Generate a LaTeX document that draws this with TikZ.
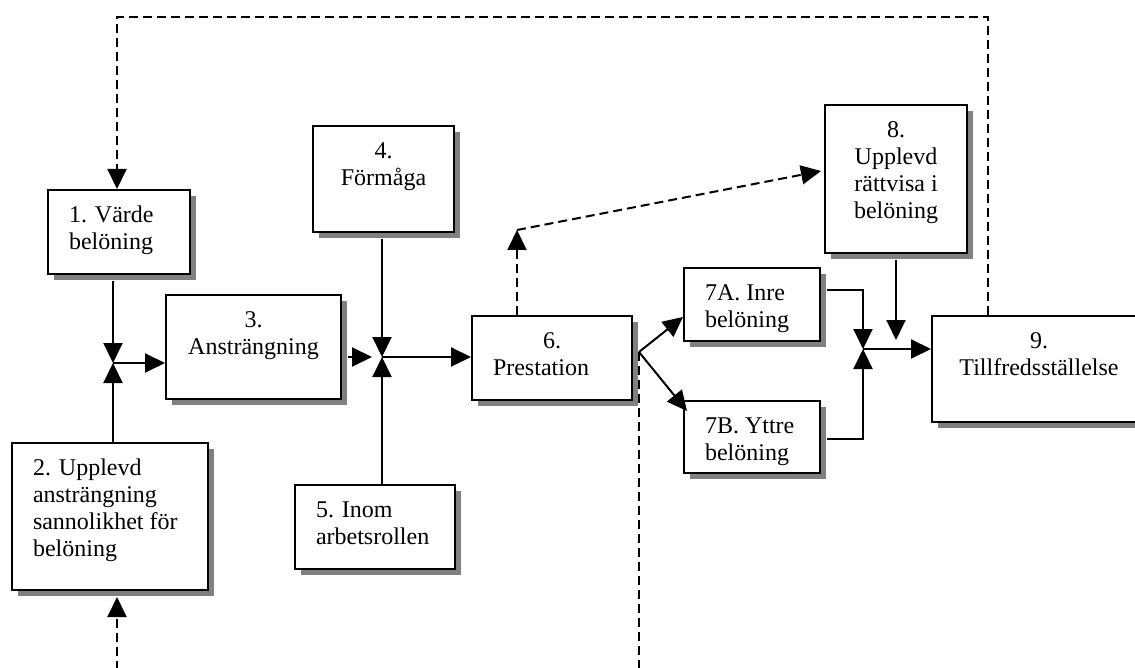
\documentclass[tikz,border=0pt]{standalone}
\usepackage{fontspec}
\setmainfont{Liberation Serif}
\usetikzlibrary{arrows.meta,shadows,calc}

\tikzset{every picture/.style={line width=1pt}}
\tikzset{
  blk/.style={draw, fill=white, anchor=north west, inner xsep=10.5pt, inner ysep=0pt,
    font=\fontsize{12}{13.5}\selectfont,
    drop shadow={shadow xshift=3pt, shadow yshift=-3pt, fill=black!50, opacity=1}},
  arr/.style={-{Triangle[length=10pt,width=9.5pt]}},
  fb/.style={arr, dash pattern=on 4.5pt off 2.5pt}
}
% box text: width, height (px), alignment, text
\newcommand{\boxtext}[4]{\parbox[c][\dimexpr#2pt/2\relax][t]{\dimexpr#1pt/2-21pt\relax}{#3\vspace*{7pt}\strut#4}}

\begin{document}
\begin{tikzpicture}[x=0.5pt,y=0.5pt,yscale=-1,xscale=1]
\useasboundingbox (0,0) rectangle (1135,668);

% Boxes
\node[blk] (b1) at (47,189) {\boxtext{142}{84}{\raggedright}{1. Värde\\belöning}};
\node[blk] (b2) at (11,442) {\boxtext{196}{147}{\raggedright}{2. Upplevd\\ansträngning\\sannolikhet för\\belöning}};
\node[blk] (b3) at (165,294) {\boxtext{175}{104}{\centering}{3.\\Ansträngning}};
\node[blk] (b4) at (312,125) {\boxtext{141}{106}{\centering}{4.\\Förmåga}};
\node[blk] (b5) at (294,484) {\boxtext{160}{84}{\raggedright}{5. Inom\\arbetsrollen}};
\node[blk] (b6) at (471,315) {\boxtext{160}{84}{\raggedright}{\makebox[\linewidth]{6.}\\Prestation}};
\node[blk] (b7a) at (683,267) {\boxtext{136}{73}{\raggedright}{7A. Inre\\belöning}};
\node[blk] (b7b) at (683,400) {\boxtext{136}{72}{\raggedright}{7B. Yttre\\belöning}};
\node[blk] (b8) at (824,104) {\boxtext{142}{148}{\centering}{8.\\Upplevd\\rättvisa i\\belöning}};
\node[blk] (b9) at (931,315) {\boxtext{214}{106}{\centering}{9.\\Tillfredsställelse}};

% Junctions and bends
\coordinate (j1) at (113,363);
\coordinate (j2) at (382,357);
\coordinate (j3) at (863,349);
\coordinate (s6) at (639,352);
\coordinate (d6) at (517,230);
\coordinate (t9) at (988,17);
\coordinate (t1) at (117,17);
\coordinate (u6) at (639,670);
\coordinate (u2) at (117,670);

% Straight Lines
\draw[arr] ($(j1 |- b1.south)+(0,6)$) -- (j1);
\draw[arr] (j1 |- b2.north) -- (j1);
\draw[arr] (j1) -- (j1 -| b3.west);
\draw[arr,shorten >=5pt] ($(b3.east |- j2)+(6,0)$) -- (j2);
\draw[arr] ($(j2 |- b4.south)+(0,6)$) -- (j2);
\draw[arr] (j2 |- b5.north) -- (j2);
\draw[arr] (j2) -- (j2 -| b6.west);
\draw[arr] (s6) -- ($(b7a.west)+(0,12.5)$);
\draw[arr] (s6) -- ($(b7b.north west)+(4,11)$);
\draw[arr] ($(b7a.east)+(6,-14.5)$) -| (j3);
\draw[arr] ($(b7b.east)+(6,2)$) -| (j3);
\draw[arr,shorten >=4.5pt] ($(b8.south)+(0,6)$) -- (b8.south |- j3);
\draw[arr] (j3) -- (j3 -| b9.west);

% Dashed feedback lines
\draw[fb] (d6 |- b6.north) -- (d6);
\draw[fb] (d6) -- ($(b8.west)+(-3,-8)$);
\draw[fb] (s6) -- (u6) -- (u2) -- ($(u2 |- b2.south)+(0,6)$);
\draw[fb] (t9 |- b9.north) -- (t9) -- (t1) -- (t1 |- b1.north);

\end{tikzpicture}
\end{document}
